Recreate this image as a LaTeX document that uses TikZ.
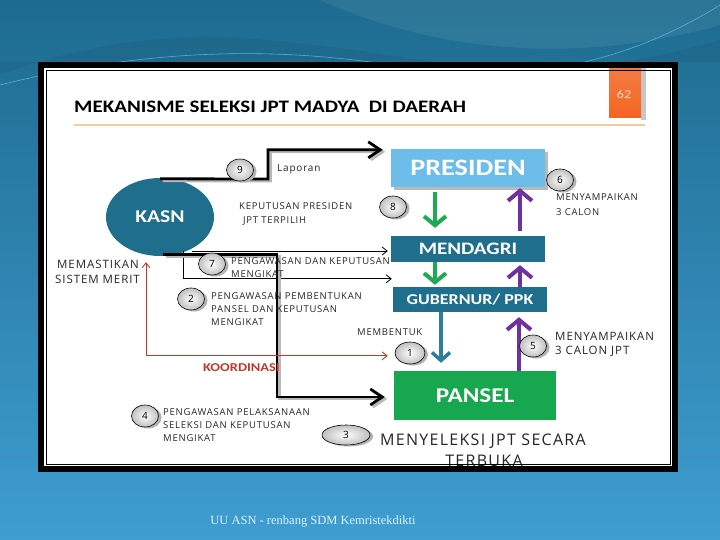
\documentclass[tikz,border=0pt]{standalone}
\usepackage{fontspec}
\setmainfont[FakeStretch=1.2]{Carlito}
\newfontfamily\lab[LetterSpace=8]{Open Sans}
\newfontfamily\ftr{Liberation Serif}
\usetikzlibrary{arrows.meta,calc,shapes.geometric,shadows}
\definecolor{bgtop}{HTML}{1D6B8F}
\definecolor{bgbot}{HTML}{3F9DD0}
\definecolor{tealbox}{HTML}{1F6E8C}
\definecolor{presblue}{HTML}{6CBDE9}
\definecolor{panselgreen}{HTML}{17A84F}
\definecolor{arrgreen}{HTML}{1EAA52}
\definecolor{arrpurple}{HTML}{7030A0}
\definecolor{arrteal}{HTML}{2E7D9A}
\definecolor{koord}{HTML}{C0392B}
\definecolor{tab}{HTML}{F26522}
\definecolor{peach}{HTML}{F5C9A1}
\tikzset{
  boxnode/.style={rectangle, inner sep=0, text=white, font=\bfseries},
  boxshadow/.style={drop shadow={shadow xshift=3pt, shadow yshift=-3pt, fill=gray!55, opacity=1}},
  numnode/.style={ellipse, draw=black, line width=0.6pt, inner color=white, outer color=gray!50,
    minimum width=27pt, minimum height=22pt, inner sep=0, font=\lab\fontsize{10}{10}\selectfont,
    drop shadow={shadow xshift=3pt, shadow yshift=-1.5pt, fill=gray!60, opacity=1}},
  lbl/.style={anchor=base west, inner sep=0, font=\lab\fontsize{9.5}{10}\selectfont, text=black!85},
  biglbl/.style={lbl, font=\lab\fontsize{11.5}{12}\selectfont},
  thickln/.style={line width=2.8pt, -{Straight Barb[length=12pt,width=16pt]},
    preaction={draw=gray!55, line width=2.8pt, transform canvas={shift={(2.5pt,-2pt)}}}},
  thinarr/.style={line width=0.8pt, -{Straight Barb[length=5pt,width=8pt]}},
  vgreen/.style={draw=arrgreen, line width=4pt, -{Straight Barb[length=9pt,width=22pt]}},
  vpurple/.style={draw=arrpurple, line width=4pt, -{Straight Barb[length=10pt,width=24pt]}},
  vteal/.style={draw=arrteal, line width=3.5pt, -{Straight Barb[length=8pt,width=18pt]}},
}
\begin{document}
\begin{tikzpicture}[x=1pt,y=-1pt]
\useasboundingbox (0,0) rectangle (720,540);
% background
\shade[top color=bgtop, bottom color=bgbot] (0,0) rectangle (720,540);
\fill[white, opacity=0.07] (320,0) .. controls (420,45) and (560,70) .. (720,25) -- (720,0) -- cycle;
\fill[black, opacity=0.06] (0,75) .. controls (150,20) and (260,35) .. (420,60) .. controls (560,80) and (650,60) .. (720,40) -- (720,62) -- (0,62) -- cycle;
\draw[cyan!60, line width=0.6pt, opacity=0.7] (0,85) .. controls (120,55) and (260,40) .. (420,70) .. controls (540,85) and (640,55) .. (720,5);
% frame fill
\fill[white] (41,65) rectangle (675,469);
% tab
\fill[gray!45] (641,68) rectangle (646,120);
\shade[top color=tab!85, bottom color=tab] (609,66) rectangle (641,118);
\node[font=\fontsize{12}{12}\selectfont, text=orange!25] (pg) at (624,94) {62};
% title
\node[anchor=base west, inner sep=0, font=\bfseries\fontsize{17.5}{20}\selectfont] (title) at (74,113) {MEKANISME SELEKSI JPT MADYA \ DI DAERAH};
\draw[peach, line width=2.5pt] (74,125) -- (645,125);
% boxes
\node[boxnode, boxshadow, fill=presblue, minimum width=154pt, minimum height=38pt, font=\bfseries\fontsize{23.5}{24}\selectfont] (pres) at (468,168) {PRESIDEN};
\node[boxnode, fill=tealbox, minimum width=154pt, minimum height=26pt, font=\bfseries\fontsize{17.5}{18}\selectfont] (mend) at (468,249) {MENDAGRI};
\node[boxnode, fill=tealbox, minimum width=154pt, minimum height=25pt, font=\bfseries\fontsize{15}{15}\selectfont] (gub) at (470,299.5) {GUBERNUR/ PPK};
\node[boxnode, fill=panselgreen, minimum width=162pt, minimum height=49pt, font=\bfseries\fontsize{21}{21}\selectfont] (pansel) at (475,395.5) {PANSEL};
\node[ellipse, fill=tealbox, minimum width=108pt, minimum height=78pt, inner sep=0, text=white, font=\bfseries\fontsize{18}{18}\selectfont] (kasn) at (160,217) {KASN};
% vertical arrows
\coordinate (gx) at (435,0);
\coordinate (px) at (520,0);
\coordinate (tx) at (441,0);
\coordinate (px2) at (519,0);
\draw[vgreen] ([yshift=-5pt]pres.south -| gx) -- ([yshift=8pt]mend.north -| gx);
\draw[vpurple] ([yshift=5pt]mend.north -| px) -- ([yshift=-1pt]pres.south -| px);
\draw[vgreen] (mend.south -| gx) -- ([yshift=2pt]gub.north -| gx);
\draw[vpurple] (gub.north -| px) -- ([yshift=-3pt]mend.south -| px);
\draw[vteal] (gub.south -| tx) -- ([yshift=8pt]pansel.north -| tx);
\draw[vpurple] (pansel.north -| px2) -- ([yshift=-5pt]gub.south -| px2);
% connectors
\coordinate (c9) at (268,179);
\draw[thickln] ([yshift=-1pt]kasn.north) -- (c9) |- ([xshift=-8pt,yshift=-1pt]pres.north west);
\coordinate (t7) at (183,251);
\draw[thinarr, shorten >=3pt] ([xshift=9pt]t7) -- (t7 -| mend.west);
\draw[thinarr, shorten >=1pt] (t7) |- ([yshift=8pt]gub.north west);
\coordinate (v4) at (277,320);
\draw[thickln] ([xshift=3pt,yshift=2pt]kasn.south) -| (v4) |- ([xshift=-9pt,yshift=-1.5pt]pansel.west);
\draw[koord, line width=0.9pt, {Straight Barb[length=5pt,width=8pt]}-{Straight Barb[length=5pt,width=8pt]}]
  ([xshift=-14pt,yshift=-6pt]kasn.south) |- ([xshift=-6pt,yshift=15pt]pansel.north west);
% number circles
\node[numnode] (n9) at (240,170) {9};
\node[numnode] (n8) at (393,207) {8};
\node[numnode] (n6) at (560,180) {6};
\node[numnode] (n7) at (212,264) {7};
\node[numnode] (n2) at (191,299) {2};
\node[numnode, minimum width=30pt] (n1) at (410,353) {1};
\node[numnode] (n5) at (533,346) {5};
\node[numnode] (n4) at (145,416) {4};
\node[numnode, minimum width=48pt, minimum height=20pt] (n3) at (346,435) {3};
% labels
\node[lbl, font=\lab\fontsize{10}{10}\selectfont] (l9) at (277,172) {Laporan};
\node[lbl] (l8a) at (239,210) {KEPUTUSAN PRESIDEN};
\node[lbl] (l8b) at (243,224) {JPT TERPILIH};
\node[lbl] (l6a) at (556,201) {MENYAMPAIKAN};
\node[lbl] (l6b) at (556,215) {3 CALON};
\node[lbl] (l7a) at (231,264) {PENGAWASAN DAN KEPUTUSAN};
\node[lbl] (l7b) at (231,277) {MENGIKAT};
\node[lbl] (l2a) at (211,299) {PENGAWASAN PEMBENTUKAN};
\node[lbl] (l2b) at (211,312) {PANSEL DAN KEPUTUSAN};
\node[lbl] (l2c) at (211,325) {MENGIKAT};
\node[biglbl] (lm1) at (57,268) {MEMASTIKAN};
\node[biglbl] (lm2) at (55,283) {SISTEM MERIT};
\node[lbl] (l1) at (357,335) {MEMBENTUK};
\node[biglbl] (l5a) at (555,340) {MENYAMPAIKAN};
\node[biglbl] (l5b) at (555,354) {3 CALON JPT};
\node[lbl, font=\bfseries\fontsize{12}{12}\selectfont, text=koord] (lk) at (203,371) {KOORDINASI};
\node[lbl] (l4a) at (163,415) {PENGAWASAN PELAKSANAAN};
\node[lbl] (l4b) at (163,428) {SELEKSI DAN KEPUTUSAN};
\node[lbl] (l4c) at (163,441) {MENGIKAT};
\node[lbl, font=\lab\fontsize{16}{17}\selectfont] (l3a) at (380,445) {MENYELEKSI JPT SECARA};
\node[anchor=base, inner sep=0, font=\lab\fontsize{16}{17}\selectfont, text=black!85] (l3b) at (484,466) {TERBUKA};
% frame borders
\draw[line width=6pt] (41,65) rectangle (675,469);
\draw[line width=0.8pt] (46,70) rectangle (670,464);
% footer
\node[font=\ftr\fontsize{12.5}{13}\selectfont, text=cyan!15] (foot) at (313,522) {UU ASN - renbang SDM Kemristekdikti};
\end{tikzpicture}
\end{document}
